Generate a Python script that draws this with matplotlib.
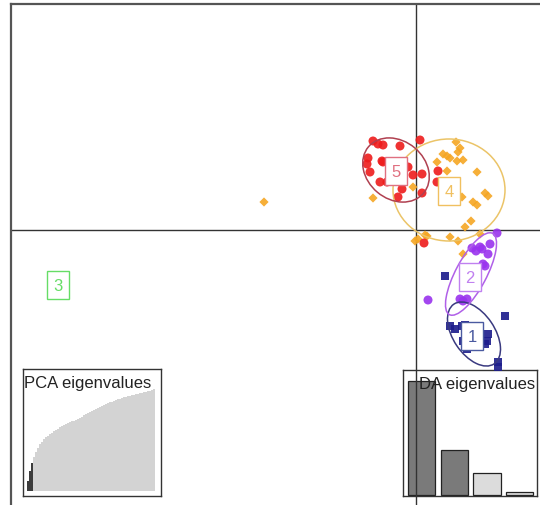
import matplotlib
matplotlib.use('Agg')
import matplotlib.pyplot as plt
from matplotlib.patches import Ellipse

plt.rcParams['font.family'] = ['Liberation Sans', 'DejaVu Sans']

# ---------------- data (LD1 / LD2 scores) ----------------
# cluster 1 (navy squares)
c1_x = [0.725, 1.275, 2.225, 0.85, 1.15, 1.225, 1.8, 1.775, 1.175, 1.275, 1.4, 1.725, 2.05, 2.05, 0.975, 1.6]
c1_y = [-1.15, -1.425, -2.15, -2.4, -2.4, -2.375, -2.6, -2.775, -2.775, -2.975, -2.925, -2.85, -3.3, -3.425, -2.475, -2.875]
# cluster 2 (purple circles)
c2_x = [2.025, 1.4, 1.6, 1.65, 1.8, 1.725, 1.675, 1.1, 1.175, 1.275, 0.3, 1.85, 1.5]
c2_y = [-0.075, -0.45, -0.425, -0.475, -0.6, -0.9, -0.85, -1.725, -1.775, -1.725, -1.75, -0.35, -0.525]
# cluster 3 (green, single individual)
c3_x = [-8.95]
c3_y = [-1.375]
# cluster 4 (orange diamonds)
c4_x = [1.0, 1.1, 1.05, 0.675, 0.775, 0.85, 1.025, 1.175, 0.525, 0.775, 1.525, -0.075, -1.075, 1.15,
        1.425, 1.525, 1.725, 1.8, 1.375, 1.225, 0.85, 1.05, 0.225, -0.025, 0.05, 0.275, 1.6, 1.175, -3.8]
c4_y = [2.2, 2.05, 1.95, 1.9, 1.85, 1.8, 1.725, 1.75, 1.7, 1.475, 1.45, 1.075, 0.8, 0.825,
        0.7, 0.625, 0.925, 0.85, 0.225, 0.075, -0.175, -0.275, -0.125, -0.275, -0.225, -0.15, -0.1, -0.6, 0.7]
# cluster 5 (red circles)
c5_x = [-1.075, -0.95, -0.825, -0.4, 0.1, -1.2, -1.225, -1.15, -0.85, -0.825, -0.2, -0.075, 0.15, 0.55,
        0.525, -0.9, -0.725, -0.35, -0.45, 0.15, 0.2]
c5_y = [2.225, 2.15, 2.125, 2.1, 2.25, 1.8, 1.65, 1.45, 1.725, 1.7, 1.575, 1.375, 1.4, 1.475,
        1.2, 1.2, 1.2, 1.025, 0.825, 0.925, -0.325]

cluster_labels = ['1', '2', '3', '4', '5']
# group centres (label positions)
centre_x = [1.4, 1.35, -8.95, 0.825, -0.5]
centre_y = [-2.65, -1.175, -1.375, 0.975, 1.475]
# inertia ellipses: centre, width, height, angle (deg)
ell_cx = [1.45, 1.375, -8.95, 0.825, -0.5]
ell_cy = [-2.6, -1.1, -1.375, 1.0, 1.5]
ell_w = [1.8, 2.3, 0.0, 2.8, 1.8]
ell_h = [1.04, 0.77, 0.0, 2.55, 1.45]
ell_a = [-56, 62, 0, 0, -40]

# PCA cumulative variance (inset)
pca_cumvar = [10, 20, 28, 34, 39, 43, 47, 49, 52, 54, 55.5, 57, 58.5, 60, 61, 62.5, 64, 65, 66, 67,
              68, 69, 70, 70.5, 71.5, 72.5, 73.5, 74.5, 76, 77, 78, 79, 80, 81.5, 82.5, 83.5, 84.5,
              85.5, 86, 87, 88, 89, 89.5, 90.5, 91, 92, 92.5, 93.5, 94, 94.5, 95, 95.5, 96, 96.5,
              97, 97.5, 98, 98.5, 99, 99.5, 100, 100.5, 101, 102]
n_pca_retained = 3
# DA eigenvalues (inset)
da_eig = [114, 45, 22, 3]
n_da_retained = 2

# ---------------- styling ----------------
pt_col = ['#1c1c8c', '#9933ee', '#66dd66', '#f5a623', '#ee1c1c']
ell_col = ['#3a3a80', '#b060e8', '#66dd66', '#ebc468', '#b04050']
lab_col = ['#4a5aa0', '#c080f0', '#66dd66', '#f0c060', '#e07080']
markers = ['s', 'o', 's', 'D', 'o']
msize = [34, 42, 30, 22, 42]

W, H = 540, 506
def px_rect(l, t, r, b):
    return [l / W, 1 - b / H, (r - l) / W, (b - t) / H]

fig = plt.figure(figsize=(W / 100, H / 100), dpi=100)
fig.patch.set_facecolor('white')

# ---------------- insets (drawn below main axes) ----------------
axp = fig.add_axes(px_rect(23, 370, 161, 497))
axp.set_zorder(1)
axp.set_facecolor('white')
idx = list(range(len(pca_cumvar)))
pcols = ['#3c3c3c' if i < n_pca_retained else '#d3d3d3' for i in idx]
axp.bar(idx, pca_cumvar, width=1.0, color=pcols, edgecolor='none', linewidth=0)
axp.set_xlim(-2.5, 66.5)
axp.set_ylim(-5, 122)
axp.set_xticks([]); axp.set_yticks([])
for s in axp.spines.values():
    s.set_color('#333333'); s.set_linewidth(1.0)
axp.text(0.01, 0.955, 'PCA eigenvalues', transform=axp.transAxes, ha='left', va='top',
         fontsize=12, color='#222222')

axd = fig.add_axes(px_rect(403, 371, 537, 497))
axd.set_zorder(1)
axd.set_facecolor('white')
didx = list(range(len(da_eig)))
dcols = ['#7a7a7a' if i < n_da_retained else '#dcdcdc' for i in didx]
axd.bar(didx, da_eig, width=0.833, color=dcols, edgecolor='#222222', linewidth=0.9)
axd.set_xlim(-0.566, 3.53)
axd.set_ylim(-1, 125)
axd.set_xticks([]); axd.set_yticks([])
for s in axd.spines.values():
    s.set_color('#333333'); s.set_linewidth(1.0)
axd.text(0.985, 0.955, 'DA eigenvalues', transform=axd.transAxes, ha='right', va='top',
         fontsize=12, color='#222222')

# ---------------- main scatter ----------------
ax = fig.add_axes(px_rect(11, 5, 560, 520))
ax.set_zorder(2)
ax.patch.set_alpha(0)
ax.set_xlim((11 - 416) / 40, (560 - 416) / 40)
ax.set_ylim((231 - 520) / 40, (231 - 5) / 40)
ax.set_xticks([]); ax.set_yticks([])
for s in ax.spines.values():
    s.set_color('#555555'); s.set_linewidth(1.6)

ax.axhline(0, color='#333333', lw=1.0, zorder=1)
ax.axvline(0, color='#333333', lw=1.0, zorder=1)

xs = [c1_x, c2_x, c3_x, c4_x, c5_x]
ys = [c1_y, c2_y, c3_y, c4_y, c5_y]
for k in range(5):
    ax.scatter(xs[k], ys[k], s=msize[k], marker=markers[k], color=pt_col[k],
               edgecolors='none', alpha=0.9, zorder=3)
for k in range(5):
    if ell_w[k] > 0:
        ax.add_patch(Ellipse((ell_cx[k], ell_cy[k]), ell_w[k], ell_h[k], angle=ell_a[k],
                             fill=False, ec=ell_col[k], lw=1.1, zorder=4))
for k in range(5):
    ax.text(centre_x[k], centre_y[k], cluster_labels[k], ha='center', va='center',
            fontsize=12, color=lab_col[k], zorder=5,
            bbox=dict(boxstyle='square,pad=0.38', fc='white', ec=lab_col[k], lw=1.0))

fig.savefig('out.png', dpi=100, facecolor='white')
